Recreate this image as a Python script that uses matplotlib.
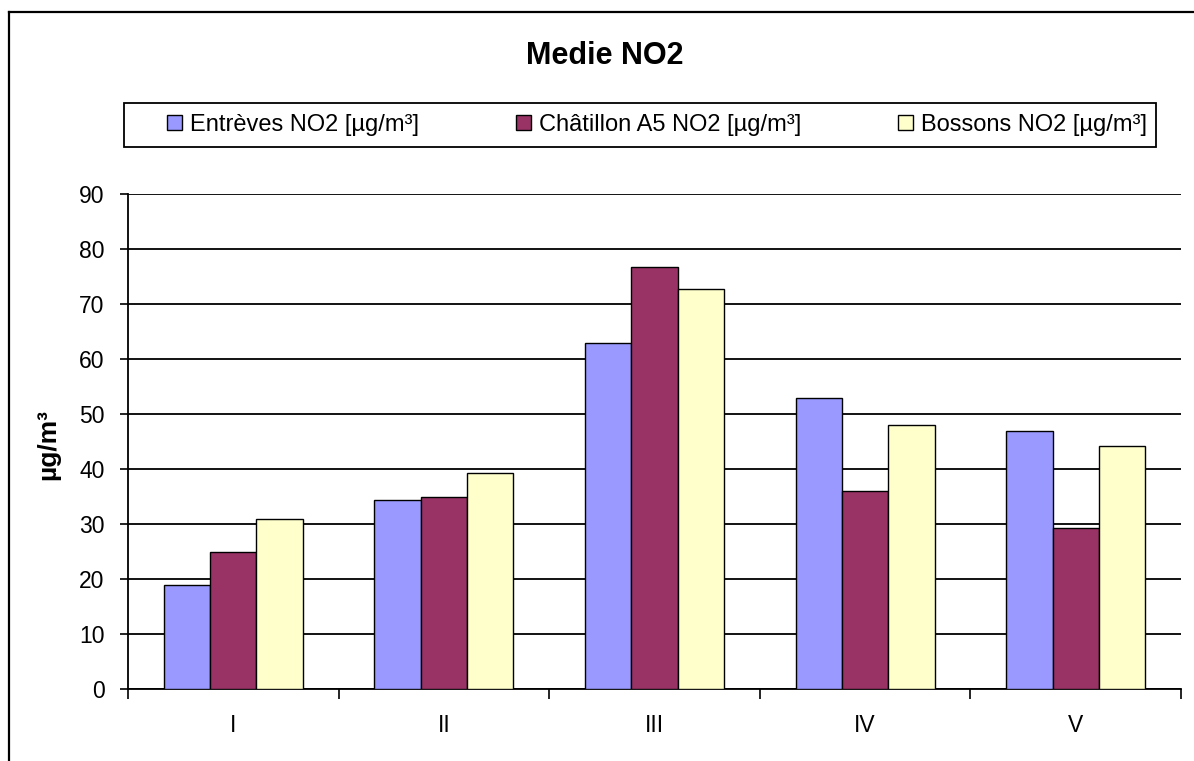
import matplotlib
matplotlib.use("Agg")
import matplotlib.pyplot as plt
import numpy as np
from matplotlib.patches import Rectangle
from matplotlib.lines import Line2D

categories = ["I", "II", "III", "IV", "V"]
series_names = ["Entrèves NO2 [µg/m³]", "Châtillon A5 NO2 [µg/m³]", "Bossons NO2 [µg/m³]"]
entreves = [18.9, 34.3, 62.9, 53.0, 46.9]
chatillon = [25.0, 35.0, 76.8, 36.0, 29.2]
bossons = [31.0, 39.2, 72.8, 48.0, 44.1]
colors = ["#9999FF", "#993366", "#FFFFCC"]
yticks = [0, 10, 20, 30, 40, 50, 60, 70, 80, 90]

plt.rcParams['font.family'] = ['Liberation Sans', 'DejaVu Sans']

W, H = 1194, 761
fig = plt.figure(figsize=(W / 100, H / 100), dpi=100)
fig.patch.set_facecolor("white")

# outer chart border (clipped at right and bottom, as in the reference)
fig.add_artist(Line2D([9 / W, 1.0], [1 - 12 / H, 1 - 12 / H], color="black", lw=1.6, transform=fig.transFigure))
fig.add_artist(Line2D([9 / W, 9 / W], [1 - 12 / H, 0.0], color="black", lw=1.6, transform=fig.transFigure))

ax = fig.add_axes([128 / W, (H - 689) / H, (1181 - 128) / W, (689 - 194) / H])

x = np.arange(len(categories))
bw = 0.22
data = [entreves, chatillon, bossons]
handles = []
for i, (vals, c, name) in enumerate(zip(data, colors, series_names)):
    b = ax.bar(x + (i - 1) * bw, vals, width=bw, color=c, edgecolor="black", linewidth=1.0, label=name, zorder=3)
    handles.append(b)

ax.set_xlim(-0.5, len(categories) - 0.5)
ax.set_ylim(0, 90)
ax.set_yticks(yticks)
ax.set_yticklabels([str(v) for v in yticks], fontsize=16.5)
ax.yaxis.grid(True, color="black", lw=1.3, zorder=0)
ax.set_axisbelow(True)

ax.set_xticks(np.arange(len(categories) + 1) - 0.5)
ax.set_xticklabels([])
ax.set_xticks(x, minor=True)
ax.set_xticklabels(categories, minor=True, fontsize=16.5)
ax.tick_params(axis="x", which="minor", length=0, pad=18)
ax.tick_params(axis="x", which="major", length=7, width=1.2, direction="out")
ax.tick_params(axis="y", length=6, width=1.2, direction="out", pad=11)

for s in ["top", "right"]:
    ax.spines[s].set_visible(False)
for s in ["left", "bottom"]:
    ax.spines[s].set_linewidth(1.3)

fig.text(48 / W, 1 - 445 / H, "µg/m³", rotation=90, ha="center", va="center", fontsize=19, fontweight="bold")

fig.text(605 / W, 1 - 56 / H, "Medie NO2", ha="center", va="center", fontsize=22, fontweight="bold")

# legend frame
fig.add_artist(Rectangle((124 / W, 1 - 147 / H), (1156 - 124) / W, (147 - 103) / H,
                         transform=fig.transFigure, fill=False, edgecolor="black", lw=1.3))
leg = fig.legend(handles=handles, labels=series_names, loc="center",
                 bbox_to_anchor=(657 / W, 1 - 125 / H), ncol=3, frameon=False,
                 fontsize=17, handlelength=0.62, handleheight=0.62, handletextpad=0.35,
                 columnspacing=4.1)

fig.savefig("out.png", dpi=100, facecolor="white")
